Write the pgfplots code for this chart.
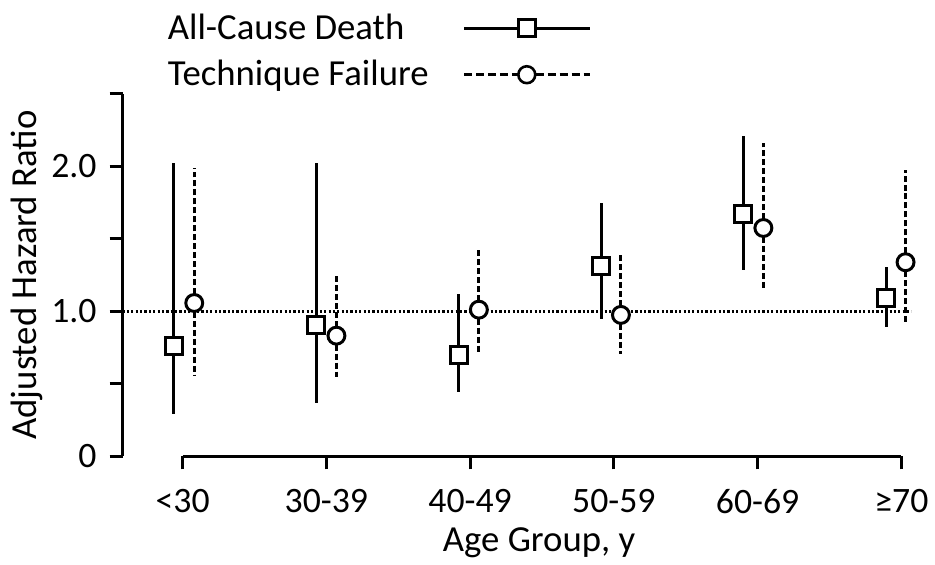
\documentclass[border=0pt]{standalone}
\usepackage{fontspec}
\setmainfont{Carlito}
\usepackage{pgfplots}
\usepackage{pgfplotstable}
\pgfplotsset{compat=1.18}

% hazard ratio, lower and upper CI per age group (x offset within group)
\pgfplotstableread{
x      y     lo    hi
-0.063 0.762 0.292 2.02
0.929  0.905 0.366 2.02
1.922  0.697 0.446 1.116
2.911  1.311 0.949 1.745
3.900  1.670 1.286 2.207
4.893  1.093 0.892 1.304
}\death
\pgfplotstableread{
x      y     lo    hi
0.081  1.057 0.560 1.984
1.070  0.832 0.531 1.248
2.061  1.011 0.716 1.434
3.049  0.975 0.709 1.395
4.040  1.574 1.162 2.157
5.029  1.338 0.922 1.972
}\failure

\begin{document}
\begin{tikzpicture}
\begin{axis}[
    scale only axis,
    width=396bp, height=182.1bp,
    xmin=-0.418, xmax=5.07,
    ymin=0, ymax=2.5,
    clip=false,
    axis y line=left, axis x line=bottom,
    axis line style={-, line width=1.5bp},
    x axis line style={draw=none},
    tick align=outside,
    major tick length=6.5bp,
    tick style={black, line width=1.5bp},
    ytick={0,0.5,1,1.5,2,2.5},
    yticklabels={0,,1.0,,2.0,},
    xtick={0,1,2,3,4,5},
    xticklabels={<30,30-39,40-49,50-59,60-69,≥70},
    /pgf/number format/assume math mode=true,
    every tick label/.append style={font=\fontsize{18}{21}\selectfont},
    yticklabel style={xshift=-3bp},
    xticklabel style={yshift=-6.5bp},
    label style={font=\fontsize{18.5}{22}\selectfont},
    ylabel={Adjusted Hazard Ratio},
    ylabel style={at={(rel axis cs:-0.121,0.5)}, anchor=center},
    xlabel={Age Group, y},
    xlabel style={at={(rel axis cs:0.528,-0.262)}, anchor=base},
    legend plot pos=right,
    legend cell align=left,
    legend image code/.code={\draw[#1, mark repeat=2, mark phase=2]
        plot coordinates {(0bp,0bp) (31.5bp,0bp) (63bp,0bp)};},
    legend style={draw=none, fill=none, font=\fontsize{18.5}{22}\selectfont,
        at={(rel axis cs:0.052,1.116)}, anchor=west, inner sep=0pt,
        row sep=5bp,
        /tikz/every odd column/.append style={column sep=15bp}},
]
\addlegendimage{black, line width=1.5bp, mark=square*,
    mark size=4.25bp, mark options={fill=white, solid}}
\addlegendentry{All-Cause Death}
\addlegendimage{black, line width=1.3bp, dash pattern=on 4bp off 2bp,
    mark=*, mark size=4.25bp, mark options={fill=white, solid}}
\addlegendentry{Technique Failure}

\addplot[black, line width=1.3bp, dash pattern=on 1.1bp off 1.1bp, forget plot]
    coordinates {(-0.418,1) (5.07,1)};

\addplot[black, only marks, mark=square*, mark size=4.25bp, forget plot,
    mark options={fill=white, draw=black, line width=1.5bp},
    error bars/.cd, y dir=both, y explicit, error mark=none,
    error bar style={line width=1.5bp, solid}]
    table[x=x, y=y, y error plus expr=\thisrow{hi}-\thisrow{y},
          y error minus expr=\thisrow{y}-\thisrow{lo}] {\death};

\addplot[black, only marks, mark=*, mark size=4.25bp, forget plot,
    mark options={fill=white, draw=black, line width=1.5bp},
    error bars/.cd, y dir=both, y explicit, error mark=none,
    error bar style={line width=1.5bp, dash pattern=on 3bp off 1.5bp}]
    table[x=x, y=y, y error plus expr=\thisrow{hi}-\thisrow{y},
          y error minus expr=\thisrow{y}-\thisrow{lo}] {\failure};

\draw[line width=1.5bp] (axis cs:0,0) -- (axis cs:5,0);
\coordinate (bbsw) at (rel axis cs:-0.1553,-0.2929);
\coordinate (bbne) at (rel axis cs:1.0253,1.258);
\end{axis}
\useasboundingbox (bbsw) rectangle (bbne);
\end{tikzpicture}
\end{document}
